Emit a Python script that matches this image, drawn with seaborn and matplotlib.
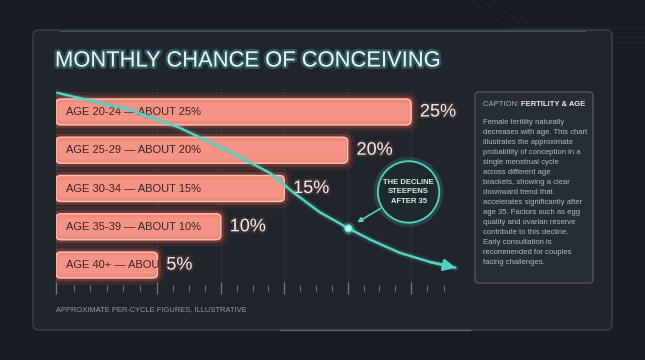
import numpy as np
import pandas as pd
import seaborn as sns
import matplotlib.pyplot as plt
import matplotlib.patheffects as pe
from matplotlib.patches import FancyBboxPatch

# ==============================
# Data
# ==============================
age_groups = ["AGE 20-24", "AGE 25-29", "AGE 30-34", "AGE 35-39", "AGE 40+"]
chance = [25, 20, 15, 10, 5]

# decorative trend curve, in data units (% on x, bar slot on y)
trend_x = [-2.9, 2.9, 6.8, 10.7, 13.9, 15.7, 17.8, 20.0, 21.8, 24.1, 26.5, 28.5]
trend_y = [-0.5, -0.05, 0.42, 1.04, 1.6, 2.1, 2.62, 3.03, 3.34, 3.68, 3.92, 4.07]
marker_x, marker_y = 20.0, 3.03
note_x, note_y = 24.8, 2.09
note_text = "THE DECLINE\nSTEEPENS\nAFTER 35"

title = "MONTHLY CHANCE OF CONCEIVING"
footer = "APPROXIMATE PER-CYCLE FIGURES, ILLUSTRATIVE"
caption_head = "CAPTION:"
caption_topic = "FERTILITY & AGE"
caption_lines = [
    "Female fertility naturally",
    "decreases with age. This chart",
    "illustrates the approximate",
    "probability of conception in a",
    "single menstrual cycle",
    "across different age",
    "brackets, showing a clear",
    "downward trend that",
    "accelerates significantly after",
    "age 35. Factors such as egg",
    "quality and ovarian reserve",
    "contribute to this decline.",
    "Early consultation is",
    "recommended for couples",
    "facing challenges.",
]

df = pd.DataFrame({"group": age_groups, "chance": chance})
# the shortest bar is too short for the full text; the reference cuts it off
df["label"] = [f"{g} \u2014 ABOUT {c}%" if c > 5 else f"{g} \u2014 ABOUT"
               for g, c in zip(age_groups, chance)]

# ==============================
# Style
# ==============================
sns.set_style("dark")
REG = ["Liberation Sans", "DejaVu Sans"]
plt.rcParams["font.family"] = REG

BG = "#181b21"
CARD = "#20252c"
TEAL = "#55d2bf"
BAR = "#f28a7c"
BAR_EDGE = "#ffc4b8"
GLOW = "#ff5a45"

fig = plt.figure(figsize=(6.45, 3.6), dpi=100)
fig.patch.set_facecolor(BG)

# background layer in pixel coordinates
bg = fig.add_axes([0, 0, 1, 1], zorder=0)
bg.set_xlim(0, 645)
bg.set_ylim(360, 0)
bg.axis("off")

# faint circuit lines top right
for off in [0, 12, 24, 36]:
    bg.plot([470 + off, 510 + off, 645], [0, 28 + off * 0.4, 28 + off * 0.4],
            color="#1f232a", lw=1, zorder=0)

card = FancyBboxPatch((33, 30), 579, 300, boxstyle="round,pad=0,rounding_size=6",
                      fc=CARD, ec="#3b434d", lw=1.0, zorder=1)
bg.add_patch(card)
bg.plot([60, 585], [30.5, 30.5], color="#6fa9b0", lw=0.8, alpha=0.35, zorder=2)
bg.plot([280, 470], [329.5, 329.5], color="#7fd0d0", lw=1.0, alpha=0.35, zorder=2)

bg.text(55, 61, title, fontsize=15.8, color="#e2f8f8",
        va="center", ha="left", zorder=3,
        path_effects=[pe.withStroke(linewidth=3.5, foreground="#5fd8d8", alpha=0.25)])

bg.text(56, 310, footer, fontsize=5.4, color="#959ca4",
        va="center", ha="left", zorder=3)

panel = FancyBboxPatch((475, 92), 118, 191, boxstyle="round,pad=0,rounding_size=4",
                       fc="#272d35", ec="#4d5560", lw=1.0, zorder=2)
bg.add_patch(panel)
t = bg.text(483, 104, caption_head + " ", fontsize=5.5,
            color="#aab2ba", va="center", ha="left", zorder=3)
bg.annotate(caption_topic, xycoords=t, xy=(1, 0.5), va="center", ha="left",
            fontsize=5.5, color="#e8ecf0", fontweight="bold", zorder=3)
for i, line in enumerate(caption_lines):
    bg.text(483, 123 + i * 9.93, line, fontsize=5.5,
            color="#b3bbc3", va="center", ha="left", zorder=3)

# ==============================
# Main chart
# ==============================
ax = fig.add_axes([56 / 645, 72 / 360, 418.5 / 645, 199 / 360], zorder=2)
ax.patch.set_alpha(0)
xmin, xmax = -3, 30
px_per_x = 418.5 / (xmax - xmin)
px_per_y = 199 / 5.2

sns.barplot(data=df, x="chance", y="group", orient="h", ax=ax, width=0.68,
            color=BAR, saturation=1)
ax.set_xlim(xmin, xmax)
ax.set_ylim(4.6, -0.6)

bars = list(ax.patches)
for i, p in enumerate(bars):
    y0, h, w = p.get_y(), p.get_height(), p.get_width()
    p.remove()
    rb = FancyBboxPatch((xmin, y0), w - xmin, h,
                        boxstyle="round,pad=0,rounding_size=0.36",
                        mutation_aspect=px_per_x / px_per_y,
                        fc=BAR, ec=BAR_EDGE, lw=1.0, zorder=3)
    rb.set_path_effects([
        pe.Stroke(linewidth=10, foreground=GLOW, alpha=0.10),
        pe.Stroke(linewidth=5, foreground=GLOW, alpha=0.25),
        pe.Normal(),
    ])
    ax.add_patch(rb)
    inner = FancyBboxPatch((xmin + 0.15, y0 + 0.1), w - xmin - 0.3, h - 0.2,
                           boxstyle="round,pad=0,rounding_size=0.3",
                           mutation_aspect=px_per_x / px_per_y,
                           fc="#f69d90", ec="none", alpha=0.5, zorder=3)
    ax.add_patch(inner)
    lab = ax.text(xmin + 0.75, y0 + h / 2, df["label"][i], fontsize=8,
                  color="#3a2323", va="center", ha="left", zorder=4)
    lab.set_clip_path(rb)
    ax.text(w + 0.7, y0 + h / 2, f"{df['chance'][i]}%", fontsize=13,
            color="#f4ecea", va="center", ha="left", zorder=4,
            path_effects=[pe.withStroke(linewidth=3, foreground="#ff8a70", alpha=0.12)])

# trend curve with glow
ax.plot(trend_x, trend_y, color=TEAL, lw=5, alpha=0.12, zorder=5, solid_capstyle="round")
ax.plot(trend_x, trend_y, color=TEAL, lw=1.8, zorder=5, solid_capstyle="round")
ax.annotate("", xy=(trend_x[-1], trend_y[-1]), xytext=(trend_x[-2], trend_y[-2]),
            arrowprops=dict(arrowstyle="-|>,head_length=0.7,head_width=0.35",
                            color=TEAL, lw=1.8, shrinkA=0, shrinkB=0), zorder=5)

ax.scatter([marker_x], [marker_y], s=90, color=TEAL, alpha=0.25, zorder=6, linewidths=0)
ax.scatter([marker_x], [marker_y], s=28, color="#b8f6ee", zorder=6,
           edgecolors=TEAL, linewidths=0.8)

ann = ax.annotate(note_text, xy=(marker_x, marker_y), xytext=(note_x, note_y),
                  ha="center", va="center", fontsize=5.5, fontweight="bold",
                  color="#d9ecec", linespacing=1.5, zorder=7,
                  bbox=dict(boxstyle="circle,pad=0.7", fc="#1d292d", ec=TEAL, lw=1.3),
                  arrowprops=dict(arrowstyle="-|>,head_length=0.5,head_width=0.25",
                                  color=TEAL, lw=1.2, shrinkA=1, shrinkB=8))
ann.get_bbox_patch().set_path_effects([
    pe.Stroke(linewidth=6, foreground=TEAL, alpha=0.18), pe.Normal()])

# axis ticks and grid
ax.set_xticks([-3, 5, 10, 15, 20, 25])
ax.set_xticks([-1.6, -0.35, 1.0, 2.3, 3.6, 6.25, 7.5, 8.75, 11.25, 12.5, 13.75,
               16.25, 17.5, 18.75, 21.25, 22.5, 23.75, 26.25, 27.6], minor=True)
ax.set_xticklabels([])
ax.set_yticks([])
ax.set_xlabel("")
ax.set_ylabel("")
ax.tick_params(axis="x", which="major", direction="inout", length=8, width=1,
               color="#6d747d", bottom=True)
ax.tick_params(axis="x", which="minor", direction="inout", length=4, width=0.8,
               color="#6d747d", bottom=True)
ax.grid(axis="x", which="major", color="#2c323a", lw=0.8, zorder=0)
ax.grid(axis="y", visible=False)
for s in ax.spines.values():
    s.set_visible(False)

plt.savefig("out.png", dpi=100, facecolor=BG)
